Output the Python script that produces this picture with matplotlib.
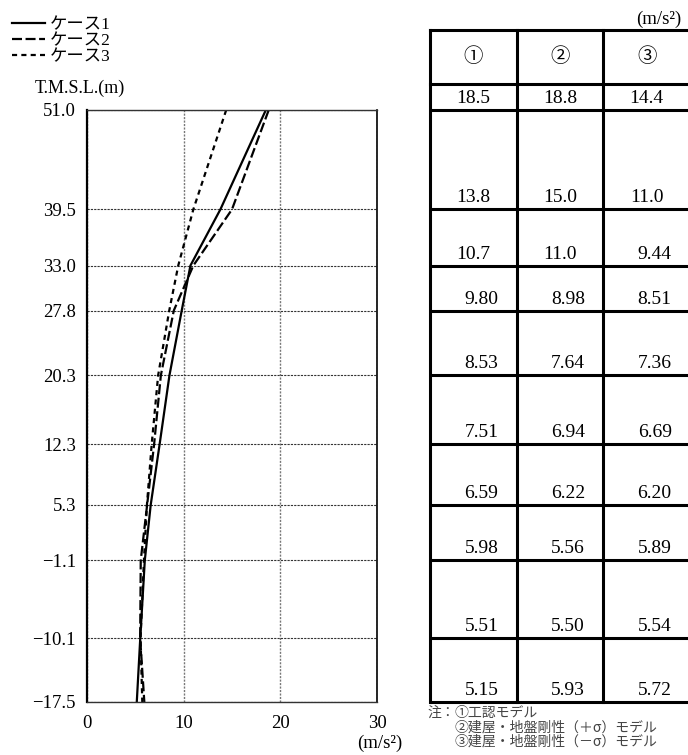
import matplotlib.pyplot as plt
import matplotlib.transforms as mtransforms

# levels (T.M.S.L., m) and max accelerations (m/s2)
levels = [51.0, 39.5, 33.0, 27.8, 20.3, 12.3, 5.3, -1.1, -10.1, -17.5]
level_labels = ["51.0", "39.5", "33.0", "27.8", "20.3", "12.3", "5.3", "−1.1", "−10.1", "−17.5"]
case1 = [18.5, 13.8, 10.7, 9.80, 8.53, 7.51, 6.59, 5.98, 5.51, 5.15]
case2 = [18.8, 15.0, 11.0, 8.98, 7.64, 6.94, 6.22, 5.56, 5.50, 5.93]
case3 = [14.4, 11.0, 9.44, 8.51, 7.36, 6.69, 6.20, 5.89, 5.54, 5.72]
case_names = ["ケース1", "ケース2", "ケース3"]
table_cols = ["①", "②", "③"]
table_text = [
    ["18.5", "13.8", "10.7", "9.80", "8.53", "7.51", "6.59", "5.98", "5.51", "5.15"],
    ["18.8", "15.0", "11.0", "8.98", "7.64", "6.94", "6.22", "5.56", "5.50", "5.93"],
    ["14.4", "11.0", "9.44", "8.51", "7.36", "6.69", "6.20", "5.89", "5.54", "5.72"],
]
x_ticks = [0, 10, 20, 30]
notes = ["①工認モデル", "②建屋・地盤剛性（＋σ）モデル", "③建屋・地盤剛性（－σ）モデル"]

plt.rcParams['font.family'] = ['Liberation Serif', 'Noto Sans CJK JP']

W, H = 688, 755
fig = plt.figure(figsize=(W / 100, H / 100), dpi=100)


def fx(px):
    return px / W


def fy(py):
    return 1 - py / H


# profile plot
ax = fig.add_axes([fx(87), fy(702), fx(377) - fx(87), fy(110) - fy(702)])
ax.plot(case1, levels, color='black', lw=1.6, label=case_names[0])
ax.plot(case2, levels, color='black', lw=1.6, dashes=(4.5, 1.6), label=case_names[1])
ax.plot(case3, levels, color='black', lw=1.6, dashes=(2.3, 1.9), label=case_names[2])
ax.set_xlim(0, 30)
ax.set_ylim(levels[-1], levels[0])
ax.set_xticks(x_ticks)
ax.set_yticks(levels)
ax.set_yticklabels(level_labels)
ax.tick_params(length=0, labelsize=13.5)
ax.tick_params(axis='y', pad=8)
ax.tick_params(axis='x', pad=9)
ax.yaxis.grid(True, color='#333333', lw=0.8, linestyle=(0, (2, 1)))
ax.xaxis.grid(True, color='#777777', lw=1.0, linestyle=(0, (1.5, 1)))
ax.spines['left'].set_linewidth(1.6)
ax.spines['right'].set_linewidth(1.2)
for s in ['top', 'bottom']:
    ax.spines[s].set_linestyle((0, (2, 1)))
    ax.spines[s].set_linewidth(1.0)
    ax.spines[s].set_color('#333333')

fig.text(fx(35), fy(88), "T.M.S.L.(m)", fontsize=13, va='center', ha='left')
fig.text(fx(402), fy(743), "(m/s²)", fontsize=13.5, va='center', ha='right')

fig.legend(loc='upper left', bbox_to_anchor=(fx(12), fy(17)), frameon=False,
           fontsize=12.5, handlelength=1.9, handletextpad=0.3, labelspacing=0.0,
           borderpad=0, borderaxespad=0)

# value table
ax_t = fig.add_axes([fx(430), fy(702), fx(690) - fx(430), fy(110) - fy(702)])
ax_t.set_xlim(0, 3)
ax_t.set_ylim(levels[-1], levels[0])
ax_t.axis('off')

blend = mtransforms.blended_transform_factory(ax_t.transData, fig.transFigure)
for i in range(4):
    ax_t.plot([i, i], [fy(30), fy(702)], color='black', lw=2.2, transform=blend, clip_on=False)
for yy in [30, 84]:
    ax_t.plot([0, 3], [fy(yy), fy(yy)], color='black', lw=2.2, transform=blend, clip_on=False)
ax_t.hlines(levels, 0, 3, color='black', lw=2.2, clip_on=False)

for j, name in enumerate(table_cols):
    ax_t.text(j + 0.5, fy(57), name, transform=blend, ha='center', va='center', fontsize=14)
    for k, lev in enumerate(levels):
        s = table_text[j][k]
        dx = 8 if float(s) < 10 else 0
        tr = mtransforms.offset_copy(ax_t.transData, fig=fig, x=dx, y=3, units='dots')
        ax_t.text(j + 0.5, lev, s, transform=tr, ha='center', va='bottom', fontsize=14)

fig.text(fx(681), fy(19), "(m/s²)", fontsize=13.5, va='center', ha='right')

fig.text(fx(427), fy(713), "注：", fontsize=10, va='center', ha='left', color='#444444',
         family='Noto Sans CJK JP')
for i, note in enumerate(notes):
    fig.text(fx(455), fy(713 + 14.5 * i), note, fontsize=10, va='center', ha='left',
             color='#444444', family='Noto Sans CJK JP')

fig.savefig("out.png", dpi=100)
